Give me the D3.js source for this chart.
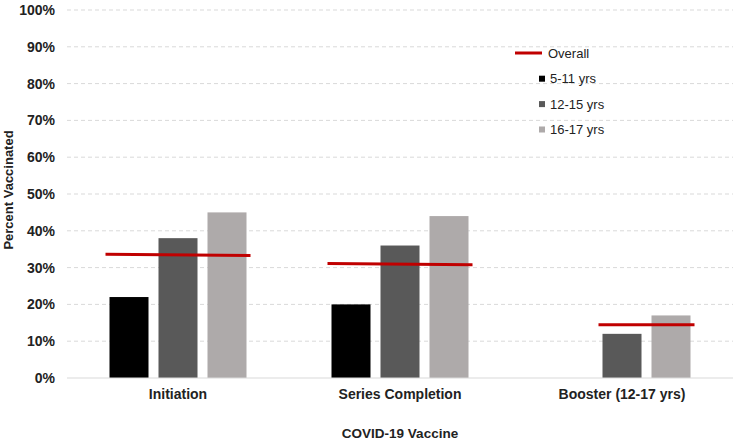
<!DOCTYPE html>
<html><head><meta charset="utf-8">
<script src="https://cdn.jsdelivr.net/npm/d3@7"></script>
<style>body{margin:0;background:#fff;}svg{display:block;font-family:"Liberation Sans",Arial,sans-serif;}</style>
</head><body>
<svg id="chart" width="738" height="440"></svg>
<script>
const categories = ["Initiation", "Series Completion", "Booster (12-17 yrs)"];
const seriesNames = ["5-11 yrs", "12-15 yrs", "16-17 yrs"];
const seriesColors = ["#000000", "#595959", "#aeaaaa"];
const age5to11 = [22, 20, null];
const age12to15 = [38, 36, 12];
const age16to17 = [45, 44, 17];
const overallStart = [33.6, 31.1, 14.5];
const overallEnd = [33.3, 30.8, 14.5];
const yTicks = [0, 10, 20, 30, 40, 50, 60, 70, 80, 90, 100];

(function () {
const series = [age5to11, age12to15, age16to17];
const svg = d3.select("#chart");
const mLeft = 67, mRight = 733, mTop = 10, mBottom = 378;

const x = d3.scaleBand().domain(categories).range([mLeft, mRight]).paddingInner(0).paddingOuter(0);
const barW = 39, gap = 10;
const groupW = barW * 3 + gap * 2;
const xs = d3.scaleBand().domain(seriesNames).range([0, groupW]).paddingInner(gap / (barW + gap)).paddingOuter(0);
const y = d3.scaleLinear().domain([0, 100]).range([mBottom, mTop]);

// gridlines
svg.append("g").selectAll("line").data(yTicks.filter(d => d > 0)).join("line")
  .attr("x1", mLeft).attr("x2", mRight)
  .attr("y1", d => y(d)).attr("y2", d => y(d))
  .attr("stroke", "#d9d9d9").attr("stroke-width", 1).attr("stroke-dasharray", "4,3");

// y axis labels
const yAxis = d3.axisLeft(y).tickValues(yTicks).tickFormat(d => d + "%").tickSize(0).tickPadding(12);
const ya = svg.append("g").attr("transform", `translate(${mLeft},0)`).call(yAxis);
ya.select(".domain").remove();
ya.selectAll("text").attr("font-size", 14).attr("font-weight", "bold").attr("fill", "#222")
  .attr("font-family", "Liberation Sans, Arial, sans-serif");

// bars
const groupOffset = (x.bandwidth() - groupW) / 2;
series.forEach((vals, si) => {
  svg.append("g").selectAll("rect").data(categories.map((c, i) => ({c, v: vals[i]})).filter(d => d.v != null)).join("rect")
    .attr("x", d => x(d.c) + groupOffset + xs(seriesNames[si]))
    .attr("width", xs.bandwidth())
    .attr("y", d => y(d.v))
    .attr("height", d => y(0) - y(d.v))
    .attr("fill", seriesColors[si]);
});

// baseline
svg.append("line").attr("x1", mLeft).attr("x2", mRight).attr("y1", y(0)).attr("y2", y(0))
  .attr("stroke", "#d9d9d9").attr("stroke-width", 1.2);

// overall lines
categories.forEach((c, i) => {
  const firstIdx = series.findIndex(s => s[i] != null);
  const x1 = x(c) + groupOffset + xs(seriesNames[firstIdx]) - 4;
  const x2 = x(c) + groupOffset + groupW + 4;
  svg.append("line").attr("x1", x1).attr("x2", x2)
    .attr("y1", y(overallStart[i])).attr("y2", y(overallEnd[i]))
    .attr("stroke", "#c00000").attr("stroke-width", 3);
});

// x axis labels
const xAxis = d3.axisBottom(x).tickSize(0).tickPadding(11);
const xa = svg.append("g").attr("transform", `translate(0,${mBottom})`).call(xAxis);
xa.select(".domain").remove();
xa.selectAll("text").attr("font-size", 14).attr("font-weight", "bold").attr("fill", "#222")
  .attr("font-family", "Liberation Sans, Arial, sans-serif");

// axis titles
svg.append("text").attr("x", 400).attr("y", 438).attr("text-anchor", "middle")
  .attr("font-size", 13.5).attr("font-weight", "bold").attr("fill", "#222").text("COVID-19 Vaccine");
svg.append("text").attr("transform", "translate(13,190) rotate(-90)").attr("text-anchor", "middle")
  .attr("font-size", 13).attr("font-weight", "bold").attr("fill", "#222").text("Percent Vaccinated");

// legend
const lg = svg.append("g");
lg.append("line").attr("x1", 515).attr("x2", 542).attr("y1", 53).attr("y2", 53)
  .attr("stroke", "#c00000").attr("stroke-width", 3);
lg.append("text").attr("x", 548).attr("y", 53).attr("dy", "0.35em").attr("font-size", 13).attr("fill", "#222").text("Overall");
seriesNames.forEach((n, i) => {
  const cy = 78.7 + i * 25.4;
  lg.append("rect").attr("x", 539).attr("y", cy - 3).attr("width", 6).attr("height", 6).attr("fill", seriesColors[i]);
  lg.append("text").attr("x", 550).attr("y", cy).attr("dy", "0.35em").attr("font-size", 13).attr("fill", "#222").text(n);
});
})();
</script>
</body></html>
